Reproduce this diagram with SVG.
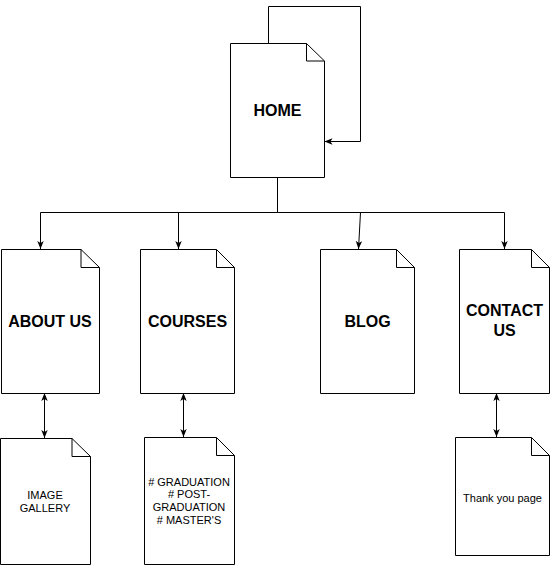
<svg xmlns="http://www.w3.org/2000/svg" width="550" height="566" viewBox="0 0 550 566">
<style>
.doc{fill:#fff;stroke:#000;stroke-width:1}
.big{font-family:"Liberation Sans",Arial,sans-serif;font-size:16px;font-weight:bold;text-anchor:middle;fill:#000}
.small{font-family:"Liberation Sans",Arial,sans-serif;font-size:11px;text-anchor:middle;fill:#000}
.conn{fill:none;stroke:#000;stroke-width:1}
</style>
<defs>
<marker id="ah" viewBox="0 0 10 10" refX="10" refY="5" markerWidth="8" markerHeight="8" markerUnits="userSpaceOnUse" orient="auto-start-reverse">
<path d="M0,1 L10,5 L0,9 L2.5,5 Z" fill="#000"/>
</marker>
</defs>
<rect width="550" height="566" fill="#fff"/>
<g id="connectors">
<path class="conn" d="M268.5,43 V6.5 H360.5 V141.5 H324.5" marker-end="url(#ah)"/>
<path class="conn" d="M277.5,177 V212.5 H40.5 V249" marker-end="url(#ah)"/>
<path class="conn" d="M178.5,212.5 V249" marker-end="url(#ah)"/>
<path class="conn" d="M277.5,212.5 H504.5 V249" marker-end="url(#ah)"/>
<path class="conn" d="M360.5,212.5 L358.5,249" marker-end="url(#ah)"/>
<path class="conn" d="M44.5,393 V438" marker-start="url(#ah)" marker-end="url(#ah)"/>
<path class="conn" d="M183.5,393 V437" marker-start="url(#ah)" marker-end="url(#ah)"/>
<path class="conn" d="M496.5,393 V437" marker-start="url(#ah)" marker-end="url(#ah)"/>
</g>
<g id="home">
<path class="doc" d="M230.5,43.5 H306.5 L324.5,61 V177.5 H230.5 Z"/>
<path class="conn" d="M306.5,43.5 V61 H324.5"/>
<text class="big" x="277.5" y="116">HOME</text>
</g>
<g id="about">
<path class="doc" d="M1.5,249.5 H81 L99.5,267.5 V393.5 H1.5 Z"/>
<path class="conn" d="M81,249.5 V267.5 H99.5"/>
<text class="big" x="50" y="327">ABOUT US</text>
</g>
<g id="courses">
<path class="doc" d="M140.5,249.5 H216.5 L234.5,267.5 V393.5 H140.5 Z"/>
<path class="conn" d="M216.5,249.5 V267.5 H234.5"/>
<text class="big" x="187.5" y="327">COURSES</text>
</g>
<g id="blog">
<path class="doc" d="M320.5,249.5 H396.5 L414.5,267.5 V393.5 H320.5 Z"/>
<path class="conn" d="M396.5,249.5 V267.5 H414.5"/>
<text class="big" x="367.5" y="327">BLOG</text>
</g>
<g id="contact">
<path class="doc" d="M459.5,249.5 H531.5 L549.5,267.5 V393.5 H459.5 Z"/>
<path class="conn" d="M531.5,249.5 V267.5 H549.5"/>
<text class="big" x="504.5" y="316">CONTACT</text>
<text class="big" x="504.5" y="336">US</text>
</g>
<g id="gallery">
<path class="doc" d="M0.5,438.5 H72 L90.5,456.5 V564.5 H0.5 Z"/>
<path class="conn" d="M72,438.5 V456.5 H90.5"/>
<text class="small" x="45" y="499">IMAGE</text>
<text class="small" x="45" y="511.5">GALLERY</text>
</g>
<g id="programs">
<path class="doc" d="M144.5,437.5 H216.5 L234.5,455.5 V564.5 H144.5 Z"/>
<path class="conn" d="M216.5,437.5 V455.5 H234.5"/>
<text class="small" x="189" y="485.5"># GRADUATION</text>
<text class="small" x="189" y="498.2"># POST-</text>
<text class="small" x="189" y="511">GRADUATION</text>
<text class="small" x="189" y="524"># MASTER'S</text>
</g>
<g id="thankyou">
<path class="doc" d="M455.5,437.5 H531.5 L549.5,455.5 V555.5 H455.5 Z"/>
<path class="conn" d="M531.5,437.5 V455.5 H549.5"/>
<text class="small" x="502.5" y="501.5">Thank you page</text>
</g>
</svg>
